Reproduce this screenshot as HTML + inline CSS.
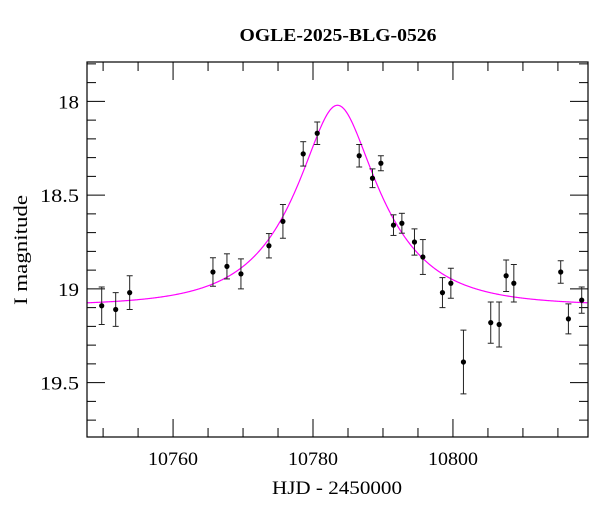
<!DOCTYPE html>
<html><head><meta charset="utf-8"><style>
html,body{margin:0;padding:0;background:#fff;}
svg text{font-family:"Liberation Serif",serif;fill:#000;}
</style></head><body>
<svg id="chart" width="600" height="512" viewBox="0 0 600 512" xmlns="http://www.w3.org/2000/svg">
<text x="338" y="41" font-size="18" font-weight="bold" text-anchor="middle" textLength="197" lengthAdjust="spacingAndGlyphs">OGLE-2025-BLG-0526</text>
<text x="337" y="494" font-size="19" text-anchor="middle" textLength="130" lengthAdjust="spacingAndGlyphs">HJD - 2450000</text>
<text x="27" y="250" font-size="19" text-anchor="middle" transform="rotate(-90 27 250)" textLength="110" lengthAdjust="spacingAndGlyphs">I magnitude</text>
<g id="ticks"></g><g id="curve"></g><g id="points"></g>
<rect x="87" y="62" width="501" height="375" fill="none" stroke="#000" stroke-width="1.2"/>
</svg>
<script>
const times = [10749.8,10751.8,10753.8,10765.7,10767.7,10769.7,10773.7,10775.7,10778.6,10780.6,10786.6,10788.5,10789.7,10791.5,10792.7,10794.5,10795.7,10798.5,10799.7,10801.5,10805.4,10806.6,10807.6,10808.7,10815.4,10816.5,10818.4];
const mags = [19.09,19.11,19.02,18.91,18.88,18.92,18.77,18.64,18.28,18.17,18.29,18.41,18.33,18.66,18.65,18.75,18.83,19.02,18.97,19.39,19.18,19.19,18.93,18.97,18.91,19.16,19.06];
const errs = [0.10,0.09,0.09,0.076,0.067,0.08,0.065,0.09,0.065,0.06,0.06,0.05,0.04,0.055,0.053,0.07,0.093,0.08,0.08,0.17,0.11,0.12,0.084,0.1,0.06,0.08,0.07];
const xTicks = [10760,10780,10800];
const yTicks = [18,18.5,19,19.5];
const modelT0 = 10783.5, modelU0 = 0.395, modelTE = 11.5, modelBase = 19.09;

const L=87,R=588,T=62,B=437;
const xMin=10747.7,xMax=10819.3,yMin=17.79,yMax=19.79;
const X=t=>L+(t-xMin)/(xMax-xMin)*(R-L);
const Y=m=>T+(m-yMin)/(yMax-yMin)*(B-T);
const NS="http://www.w3.org/2000/svg";
function mk(tag,attrs,parent){const e=document.createElementNS(NS,tag);for(const k in attrs)e.setAttribute(k,attrs[k]);parent.appendChild(e);return e;}
const tg=document.getElementById('ticks');
for(let t=Math.ceil(xMin/5)*5;t<=xMax;t+=5){
  const major=t%20===0, len=major?18:9, x=X(t);
  const a=mk('line',{x1:x,x2:x,y1:B,y2:B-len,stroke:'#000','stroke-width':1},tg);
  
  
  const b=mk('line',{x1:x,x2:x,y1:T,y2:T+len,stroke:'#000','stroke-width':1},tg);
  
  
}
xTicks.forEach(t=>{
  const e=mk('text',{x:X(t),y:B+28,'font-size':19,'text-anchor':'middle','textLength':50,'lengthAdjust':'spacingAndGlyphs'},tg);e.textContent=t;
  
  
});
for(let i=Math.ceil(yMin*10);i<=yMax*10;i++){
  const m=i/10, major=i%5===0, len=major?18:9, y=Y(m);
  const a=mk('line',{x1:L,x2:L+len,y1:y,y2:y,stroke:'#000','stroke-width':1},tg);
  
  
  const b=mk('line',{x1:R,x2:R-len,y1:y,y2:y,stroke:'#000','stroke-width':1},tg);
  
  
}
yTicks.forEach(m=>{
  const s=String(m);
  const e=mk('text',{x:L-8,y:Y(m)+7,'font-size':19,'text-anchor':'end','textLength':s.length>2?39:21,'lengthAdjust':'spacingAndGlyphs'},tg);e.textContent=s;
  
  
});
let d='';
for(let t=xMin;t<=xMax;t+=0.1){
  const u=Math.sqrt(modelU0*modelU0+Math.pow((t-modelT0)/modelTE,2));
  const A=(u*u+2)/(u*Math.sqrt(u*u+4));
  const m=modelBase-2.5*Math.log10(A);
  d+=(d?'L':'M')+X(t).toFixed(2)+' '+Y(m).toFixed(2);
}
const c=mk('path',{d:d,fill:'none',stroke:'#ff00ff','stroke-width':1.2},document.getElementById('curve'));


const pg=document.getElementById('points');
times.forEach((t,i)=>{
  const x=X(t),y1=Y(mags[i]-errs[i]),y2=Y(mags[i]+errs[i]);
  const g=mk('g',{},pg);
  
  
  mk('line',{x1:x,x2:x,y1:y1,y2:y2,stroke:'#222','stroke-width':1},g);
  mk('line',{x1:x-3,x2:x+3,y1:y1,y2:y1,stroke:'#222','stroke-width':1},g);
  mk('line',{x1:x-3,x2:x+3,y1:y2,y2:y2,stroke:'#222','stroke-width':1},g);
  mk('circle',{cx:x,cy:Y(mags[i]),r:2.6,fill:'#000'},g);
});
</script>
</body></html>
